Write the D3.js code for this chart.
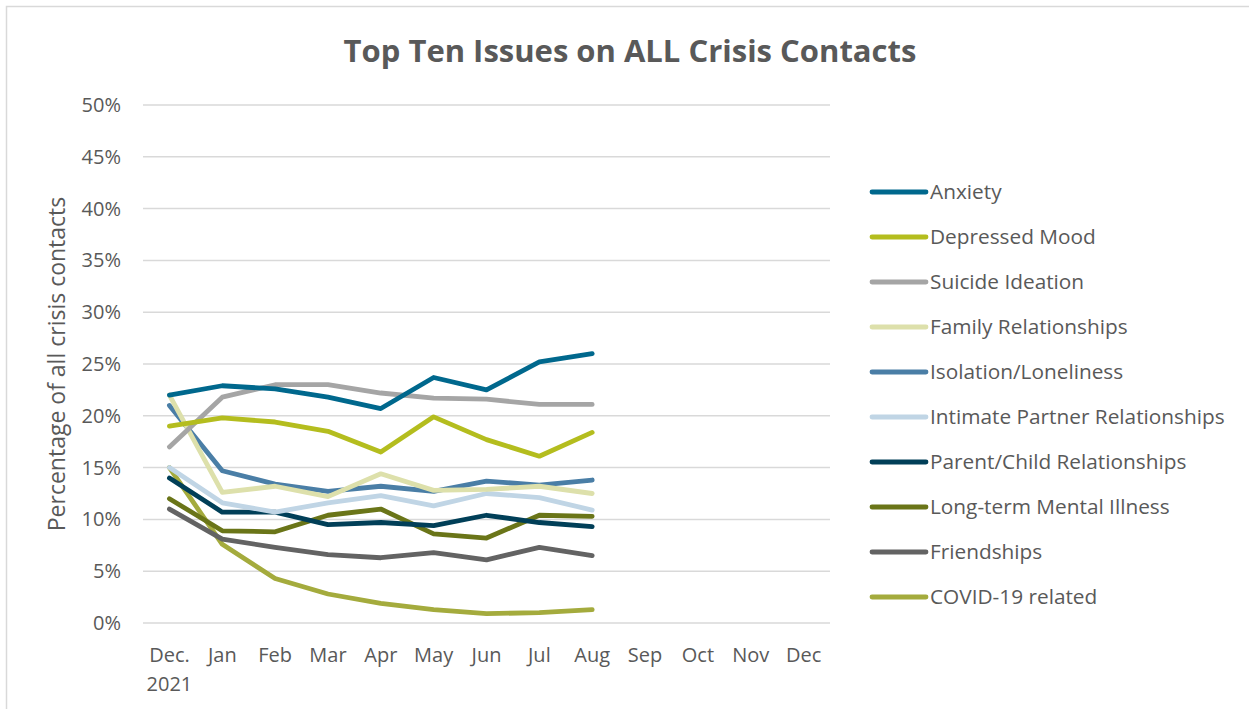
<!DOCTYPE html>
<html>
<head>
<meta charset="utf-8">
<script src="https://cdn.jsdelivr.net/npm/d3@7"></script>
<style>
  html, body { margin: 0; padding: 0; background: #fff; }
  svg { display: block; }
  text { font-family: "Open Sans", Lato, "Noto Sans", sans-serif; fill: #595959; }
</style>
</head>
<body>
<svg id="chart" width="1249" height="709"></svg>
<script>
// Months on the category axis (Dec. 2021 through Dec 2022)
const months = ["Dec.|2021", "Jan", "Feb", "Mar", "Apr", "May", "Jun", "Jul", "Aug", "Sep", "Oct", "Nov", "Dec"];
const yTicks = [0, 5, 10, 15, 20, 25, 30, 35, 40, 45, 50];

// Share of all crisis contacts (%) per issue, Dec 2021 – Aug 2022
const anxiety      = [22.0, 22.9, 22.6, 21.8, 20.7, 23.7, 22.5, 25.2, 26.0];
const depressed    = [19.0, 19.8, 19.4, 18.5, 16.5, 19.9, 17.7, 16.1, 18.4];
const suicide      = [17.0, 21.8, 23.0, 23.0, 22.2, 21.7, 21.6, 21.1, 21.1];
const family       = [22.0, 12.6, 13.2, 12.2, 14.4, 12.8, 12.9, 13.2, 12.5];
const isolation    = [21.0, 14.7, 13.4, 12.7, 13.2, 12.7, 13.7, 13.3, 13.8];
const intimate     = [15.0, 11.6, 10.7, 11.6, 12.3, 11.3, 12.5, 12.1, 10.9];
const parentChild  = [14.0, 10.7, 10.7, 9.5, 9.7, 9.4, 10.4, 9.7, 9.3];
const longTerm     = [12.0, 8.9, 8.8, 10.4, 11.0, 8.6, 8.2, 10.4, 10.3];
const friendships  = [11.0, 8.1, 7.3, 6.6, 6.3, 6.8, 6.1, 7.3, 6.5];
const covid        = [15.0, 7.6, 4.3, 2.8, 1.9, 1.3, 0.9, 1.0, 1.3];

const seriesNames  = ["Anxiety", "Depressed Mood", "Suicide Ideation", "Family Relationships",
  "Isolation/Loneliness", "Intimate Partner Relationships", "Parent/Child Relationships",
  "Long-term Mental Illness", "Friendships", "COVID-19 related"];
const seriesValues = [anxiety, depressed, suicide, family, isolation, intimate, parentChild, longTerm, friendships, covid];
const seriesColors = ["#00688d", "#b4bd1e", "#a5a5a5", "#dde0ab", "#4a7ea6", "#c0d5e5",
  "#013f58", "#6a7518", "#636363", "#a4ab3d"];

const svg = d3.select("#chart");

// outer frame (top and left edges visible)
svg.append("rect").attr("x", 6.5).attr("y", 6.5).attr("width", 1300).attr("height", 800)
  .attr("fill", "none").attr("stroke", "#d9d9d9").attr("stroke-width", 1.5);

const plot = { left: 143, right: 830, top: 105, bottom: 623 };

const x = d3.scaleBand().domain(months).range([plot.left, plot.right]);
const y = d3.scaleLinear().domain([0, 50]).range([plot.bottom, plot.top]);

// gridlines
svg.append("g").selectAll("line").data(yTicks).join("line")
  .attr("x1", plot.left).attr("x2", plot.right)
  .attr("y1", d => y(d)).attr("y2", d => y(d))
  .attr("stroke", "#d9d9d9").attr("stroke-width", 1.5);

// y axis labels
const yAxis = svg.append("g").attr("transform", `translate(${plot.left},0)`)
  .call(d3.axisLeft(y).tickValues(yTicks).tickSize(0).tickPadding(22).tickFormat(d => d + "%"));
yAxis.select(".domain").remove();
yAxis.selectAll("text").style("font-size", "20px").attr("fill", "#595959")
  .style("font-family", '"Open Sans", sans-serif');

// x axis labels (two-line first label)
const xAxis = svg.append("g").attr("transform", `translate(0,${plot.bottom})`)
  .call(d3.axisBottom(x).tickSize(0).tickPadding(25).tickFormat(() => ""));
xAxis.select(".domain").remove();
xAxis.selectAll(".tick text").each(function(d) {
  const t = d3.select(this);
  const parts = d.split("|");
  t.style("font-size", "20px").attr("fill", "#595959").style("font-family", '"Open Sans", sans-serif');
  parts.forEach((p, i) => {
    t.append("tspan").attr("x", 0).attr("dy", i === 0 ? "0.71em" : "1.45em").text(p);
  });
});

// axis title
svg.append("text")
  .attr("transform", `translate(65,${(plot.top + plot.bottom) / 2}) rotate(-90)`)
  .attr("text-anchor", "middle")
  .style("font-size", "23px")
  .text("Percentage of all crisis contacts");

// chart title
svg.append("text")
  .attr("x", 630).attr("y", 62)
  .attr("text-anchor", "middle")
  .style("font-size", "31px").style("font-weight", "bold")
  .text("Top Ten Issues on ALL Crisis Contacts");

// series lines, drawn from last to first so Anxiety sits on top
const line = d3.line()
  .x((d, i) => x(months[i]) + x.bandwidth() / 2)
  .y(d => y(d));

const order = d3.range(seriesNames.length).reverse();
svg.append("g").selectAll("path").data(order).join("path")
  .attr("d", i => line(seriesValues[i]))
  .attr("fill", "none")
  .attr("stroke", i => seriesColors[i])
  .attr("stroke-width", 4.8)
  .attr("stroke-linecap", "round")
  .attr("stroke-linejoin", "round");

// legend
const legend = svg.append("g").selectAll("g").data(seriesNames).join("g")
  .attr("transform", (d, i) => `translate(872,${192 + i * 45})`);
legend.append("line")
  .attr("x1", 0).attr("x2", 54).attr("y1", 0).attr("y2", 0)
  .attr("stroke", (d, i) => seriesColors[i])
  .attr("stroke-width", 4.8).attr("stroke-linecap", "round");
legend.append("text")
  .attr("x", 58).attr("y", 0).attr("dy", "0.35em")
  .style("font-size", "20.8px")
  .text(d => d);
</script>
</body>
</html>
